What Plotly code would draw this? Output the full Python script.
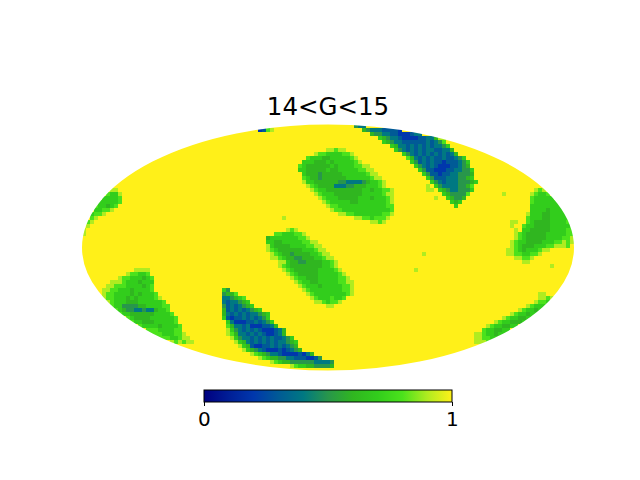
import numpy as np
import plotly.graph_objects as go

# map cells: everything is 1 (yellow) except the patches below
# each entry is (grid row, first grid column, one digit per cell, digit/10 = value)
N_ROWS = 62
N_COLS = 123

top_blue = [
    (0, 68, "544"), (1, 70, "6544433332"), (2, 72, "6554433222344"),
    (3, 74, "765443222233446"), (4, 75, "7654433333343458"), (5, 77, "764434343434457"),
    (6, 78, "754343434433446"), (7, 80, "75434343434346"), (8, 81, "864343433433457"),
    (9, 82, "753434332333457"), (10, 83, "75434322233456"), (11, 84, "75332223344557"),
    (12, 85, "7533233445556"), (13, 86, "753334445567"), (14, 87, "754344455567"),
    (15, 88, "7544445568"), (16, 89, "765445557"), (17, 90, "7655558"),
    (18, 91, "76556"), (19, 92, "767"), (20, 93, "7"),
]
upper_green = [
    (6, 61, "99899"), (7, 58, "9887777889"), (8, 56, "8777667777789"),
    (9, 55, "777666767777789"), (10, 54, "87666666767777889"), (11, 54, "776666676677777889"),
    (12, 55, "766656666677777789"), (13, 55, "8766566666677777789"), (14, 56, "7766666655444456778"),
    (15, 57, "8766664445566677789"), (16, 58, "8776666666667767788"), (17, 59, "877766666667777789"),
    (18, 60, "87776666677767778"), (19, 61, "87777766777777789"), (20, 62, "8877777777777788"),
    (21, 63, "887777777777778"), (22, 65, "9887777777889"), (23, 68, "998878889"),
    (24, 72, "9989"),
]
middle_green = [
    (26, 51, "989"), (27, 48, "88777889"), (28, 46, "67777777889"),
    (29, 46, "776677777889"), (30, 47, "766667777889"), (31, 47, "8766666677789"),
    (32, 47, "98766566667789"), (33, 48, "98766556667789"), (34, 50, "9766556666778"),
    (35, 50, "8766666666778"), (36, 51, "8766666677778"), (37, 52, "8766666777778"),
    (38, 53, "8776667777788"), (39, 54, "8776677777889"), (40, 55, "877767777788"),
    (41, 56, "87777777788"), (42, 57, "8777777778"), (43, 58, "87778778"),
    (44, 59, "987889"), (45, 61, "99"),
]
right_green = [
    (16, 113, "989"), (17, 112, "98778"), (18, 112, "877777"), (19, 112, "8777777"),
    (20, 112, "77777777"), (21, 112, "777767777"), (22, 111, "9777667777"),
    (23, 111, "87776677777"), (24, 107, "99"), (24, 111, "87666677778"), (25, 107, "9"),
    (25, 110, "8776666777778"), (26, 108, "9"), (26, 110, "7766666777788"), (27, 108, "9"),
    (27, 109, "87666667777788"), (28, 108, "987666667777889"), (29, 107, "9877666677788989"),
    (30, 107, "987666777889998"), (31, 106, "99876777899"), (32, 106, "998877889"),
    (33, 108, "99889"), (34, 110, "99"),
]
lower_left_green = [
    (36, 13, "9999"), (37, 11, "988778"), (38, 9, "988777678"), (39, 7, "99987776777"),
    (40, 6, "998887777678"), (41, 5, "9988777677778"), (42, 5, "98877776767778"),
    (43, 5, "988777676777789"), (44, 6, "987776667777778"), (45, 7, "877555566777788"),
    (46, 8, "87655445446778"), (47, 9, "87766666677778"), (48, 11, "8766667777778"),
    (49, 12, "877666777778"), (50, 14, "87777677778"), (51, 16, "888777788"),
    (52, 17, "888777889"), (53, 19, "88877899"), (54, 22, "989899"),
]
lower_right_green = [
    (42, 114, "99"), (43, 114, "9989"), (44, 113, "9887"), (45, 111, "98777"),
    (46, 109, "987767"), (47, 107, "9877677"), (48, 105, "98776677"), (49, 103, "98776667"),
    (50, 101, "98776677"), (51, 100, "8776677"), (52, 98, "99877677"), (53, 98, "998877"),
    (54, 98, "9998"),
]
left_green = [
    (16, 7, "99"), (17, 6, "8779"), (18, 5, "77778"), (19, 4, "777778"), (20, 3, "877678"),
    (21, 3, "77889"), (22, 2, "7889"), (23, 2, "89"), (24, 1, "89"), (25, 1, "9"),
    (26, 0, "9"), (27, 0, "9"),
]
bottom_blue = [
    (41, 35, "75"), (42, 35, "5668"), (43, 35, "445678"), (44, 35, "4344567"),
    (45, 35, "53434567"), (46, 35, "6343434567"), (47, 35, "643434344567"),
    (48, 35, "732334343457"), (49, 36, "742223343457"), (50, 36, "8644342223346"),
    (51, 37, "75434343222346"), (52, 37, "86443434322346"), (53, 38, "754434343433457"),
    (54, 39, "764343434344567"), (55, 40, "76322334343456"), (56, 41, "76543222323456"),
    (57, 43, "876544322223246"), (58, 45, "876655443332235"), (59, 48, "876655555544445"),
    (60, 53, "8776655556"),
]
# faint cells: isolated spots and the pale rims round the patches
small_spots = [
    (1, 44, "2389"), (3, 89, "99"), (15, 86, "9"), (16, 86, "99"), (17, 105, "9"),
    (18, 88, "9"), (23, 50, "9"), (32, 85, "9"), (35, 117, "9"), (36, 83, "9"),
    (51, 36, "9"), (52, 36, "9"), (53, 37, "9"), (54, 38, "9"), (55, 39, "9"),
    (56, 40, "9"), (57, 42, "9"), (58, 44, "9"), (59, 47, "9"), (60, 52, "9"),
    (10, 71, "9"), (11, 72, "9"), (12, 73, "9"), (13, 74, "9"), (14, 75, "9"),
    (16, 77, "9"), (17, 77, "9"), (18, 77, "9"),
    (14, 55, "9"), (15, 56, "9"), (16, 57, "9"), (17, 58, "9"), (18, 59, "9"),
    (19, 60, "9"), (20, 61, "9"), (21, 62, "9"), (22, 64, "9"),
    (29, 58, "9"), (30, 59, "9"), (31, 60, "9"), (32, 61, "9"), (33, 62, "9"),
    (34, 63, "9"), (35, 63, "9"), (36, 64, "9"), (37, 65, "9"), (38, 66, "9"),
    (39, 67, "9"), (40, 67, "9"), (41, 67, "9"), (42, 67, "9"),
    (30, 46, "9"), (31, 46, "9"), (33, 47, "9"), (34, 49, "9"), (35, 49, "9"),
    (36, 50, "9"), (37, 51, "9"), (38, 52, "9"), (39, 53, "9"), (40, 54, "9"),
    (41, 55, "9"), (42, 56, "9"), (43, 57, "9"), (44, 58, "9"),
]

colorscale = [
    [0.0, "rgb(0,0,128)"], [0.1, "rgb(0,30,150)"], [0.2, "rgb(0,55,172)"],
    [0.3, "rgb(0,90,150)"], [0.4, "rgb(0,120,130)"], [0.5, "rgb(40,150,75)"],
    [0.6, "rgb(48,182,32)"], [0.7, "rgb(50,205,28)"], [0.8, "rgb(75,226,28)"],
    [0.9, "rgb(175,236,32)"], [1.0, "rgb(255,240,25)"],
]
bar_ticks = [0, 1]
bar_tick_labels = ["0", "1"]

z = np.ones((N_ROWS, N_COLS))
for patch in [top_blue, upper_green, middle_green, right_green, lower_left_green,
              lower_right_green, left_green, bottom_blue, small_spots]:
    for row, col, digits in patch:
        for i, d in enumerate(digits):
            z[row, col + i] = int(d) / 10

# blank the cells that lie outside the Mollweide outline
xc = np.arange(N_COLS) + 0.5
yc = np.arange(N_ROWS) + 0.5
xx, yy = np.meshgrid(xc, yc)
dist = ((xx - 61.5) / 61.5) ** 2 + ((yy - 30.875) / 30.75) ** 2
z[dist > 1.06] = np.nan

fig = go.Figure(go.Heatmap(
    x=xc, y=yc, z=z,
    zmin=0, zmax=1,
    colorscale=colorscale,
    hoverinfo="skip",
    colorbar=dict(
        orientation="h",
        x=0.5, xanchor="center",
        y=-6 / 272, yanchor="top",
        lenmode="pixels", len=248,
        thickness=12,
        outlinecolor="black", outlinewidth=1,
        xpad=0, ypad=0,
        tickmode="array", tickvals=bar_ticks, ticktext=[" ", " "],
        ticks="outside", ticklen=4, tickwidth=1, tickcolor="black",
    ),
))

# white ring trims the stepped edge of the grid to a smooth ellipse
fig.add_shape(
    type="circle", xref="x", yref="y",
    x0=-1.5, x1=124.5, y0=-1.375, y1=63.125,
    line=dict(color="white", width=12),
    fillcolor="rgba(0,0,0,0)",
)

# colorbar labels sit too low when left to plotly, place them by hand
for tick, label in zip(bar_ticks, bar_tick_labels):
    fig.add_annotation(
        text=label, showarrow=False,
        xref="paper", yref="paper",
        x=(204 + 248 * tick - 70) / 516, y=(384 - 419) / 272,
        xanchor="center", yanchor="middle",
        font=dict(family="DejaVu Sans", size=20, color="black"),
    )

fig.update_layout(
    width=640, height=480,
    margin=dict(l=70, r=54, t=112, b=96),
    paper_bgcolor="white", plot_bgcolor="white",
    xaxis=dict(visible=False, range=[-3, 126]),
    yaxis=dict(visible=False, range=[65, -3]),
    title=dict(
        text="14<G<15",
        font=dict(family="DejaVu Sans", size=24.5, color="black"),
        xref="paper", x=0.5, xanchor="center",
        yref="container", y=1 - 106 / 480, yanchor="middle",
    ),
)

# page body has a default margin, drop it so the figure fills the window
fig.write_html("out.html", config={"displayModeBar": False},
               post_script="document.body.style.margin = '0';")
